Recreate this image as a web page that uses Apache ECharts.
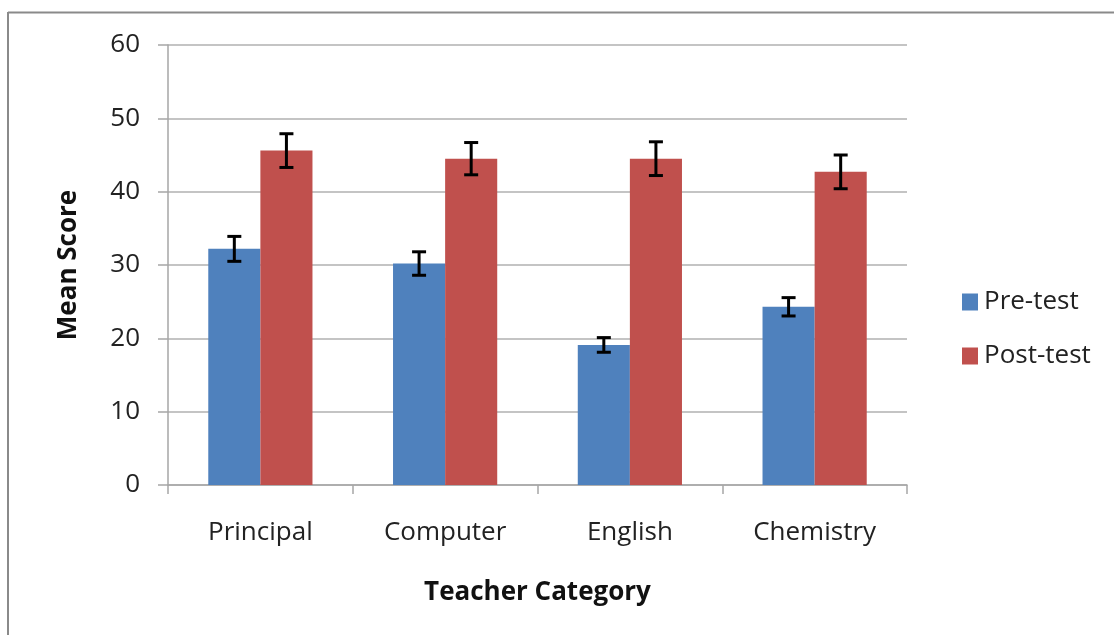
<!DOCTYPE html>
<html>
<head>
<meta charset="utf-8">
<script src="https://cdn.jsdelivr.net/npm/echarts@6/dist/echarts.min.js"></script>
<style>html,body{margin:0;padding:0;background:#fff}#c{width:1114px;height:635px}</style>
</head>
<body>
<div id="c"></div>
<script>
var categories = ['Principal', 'Computer', 'English', 'Chemistry'];
var seriesNames = ['Pre-test', 'Post-test'];
var preTest = [32.2, 30.2, 19.1, 24.3];
var postTest = [45.6, 44.5, 44.5, 42.7];
var preErr = [1.7, 1.6, 1.0, 1.25];
var postErr = [2.3, 2.2, 2.3, 2.3];
var yTicks = [0, 10, 20, 30, 40, 50, 60];

var FONT = '"Open Sans", sans-serif';
var CAT_GAP = 0.436;

function errData(vals, errs) {
  return vals.map(function (v, i) { return [i, v - errs[i], v + errs[i]]; });
}
function errSeries(idx, vals, errs) {
  return {
    type: 'custom',
    name: seriesNames[idx] + ' error',
    z: 10,
    silent: true,
    data: errData(vals, errs),
    renderItem: function (params, api) {
      var band = api.size([1, 0])[0];
      var barW = band * (1 - CAT_GAP) / 2;
      var off = (idx - 0.5) * barW;
      var lo = api.coord([api.value(0), api.value(1)]);
      var hi = api.coord([api.value(0), api.value(2)]);
      var x = lo[0] + off;
      var cap = 7;
      var st = { stroke: '#000', lineWidth: 3 };
      return {
        type: 'group',
        children: [
          { type: 'line', shape: { x1: x, y1: lo[1], x2: x, y2: hi[1] }, style: st },
          { type: 'line', shape: { x1: x - cap, y1: lo[1], x2: x + cap, y2: lo[1] }, style: st },
          { type: 'line', shape: { x1: x - cap, y1: hi[1], x2: x + cap, y2: hi[1] }, style: st }
        ]
      };
    }
  };
}

var chart = echarts.init(document.getElementById('c'));
chart.setOption({
  backgroundColor: '#fff',
  animation: false,
  textStyle: { fontFamily: FONT },
  graphic: [
    { type: 'line', shape: { x1: 8, y1: 12.5, x2: 1114, y2: 12.5 }, style: { stroke: '#8a8a8a', lineWidth: 2 } },
    { type: 'line', shape: { x1: 8, y1: 12, x2: 8, y2: 635 }, style: { stroke: '#8a8a8a', lineWidth: 2 } }
  ],
  grid: { left: 168, right: 207, top: 45, bottom: 150, containLabel: false },
  legend: {
    orient: 'vertical',
    left: 957,
    top: 284,
    itemWidth: 16,
    itemHeight: 17,
    itemGap: 28,
    icon: 'rect',
    data: seriesNames,
    textStyle: { fontFamily: FONT, fontSize: 26, color: '#222', padding: [0, 0, 0, 1] }
  },
  xAxis: {
    type: 'category',
    data: categories,
    name: 'Teacher Category',
    nameLocation: 'middle',
    nameGap: 95,
    nameTextStyle: { fontFamily: FONT, fontSize: 26, fontWeight: 'bold', color: '#111' },
    axisLine: { lineStyle: { color: '#a6a6a6', width: 1.5 } },
    axisTick: { show: true, length: 9, lineStyle: { color: '#a6a6a6', width: 1.5 } },
    axisLabel: { fontFamily: FONT, fontSize: 26, color: '#222', margin: 35 },
    splitLine: { show: false }
  },
  yAxis: {
    type: 'value',
    min: 0,
    max: 60,
    interval: 10,
    name: 'Mean Score',
    nameLocation: 'middle',
    nameGap: 86,
    nameRotate: 90,
    nameTextStyle: { fontFamily: FONT, fontSize: 26, fontWeight: 'bold', color: '#111' },
    axisLine: { show: true, lineStyle: { color: '#a6a6a6', width: 1.5 } },
    axisTick: { show: true, length: 10, lineStyle: { color: '#a6a6a6', width: 1.5 } },
    axisLabel: {
      fontFamily: FONT, fontSize: 26, color: '#222', margin: 28,
      formatter: function (v) { return yTicks.indexOf(v) >= 0 ? String(v) : ''; }
    },
    splitLine: { show: true, lineStyle: { color: '#b0b0b0', width: 1.5 } }
  },
  series: [
    {
      type: 'bar', name: seriesNames[0], data: preTest,
      barGap: '0%', barCategoryGap: (CAT_GAP * 100) + '%',
      itemStyle: { color: '#4F81BD' }
    },
    {
      type: 'bar', name: seriesNames[1], data: postTest,
      barGap: '0%', barCategoryGap: (CAT_GAP * 100) + '%',
      itemStyle: { color: '#C0504D' }
    },
    errSeries(0, preTest, preErr),
    errSeries(1, postTest, postErr)
  ]
});
</script>
</body>
</html>
